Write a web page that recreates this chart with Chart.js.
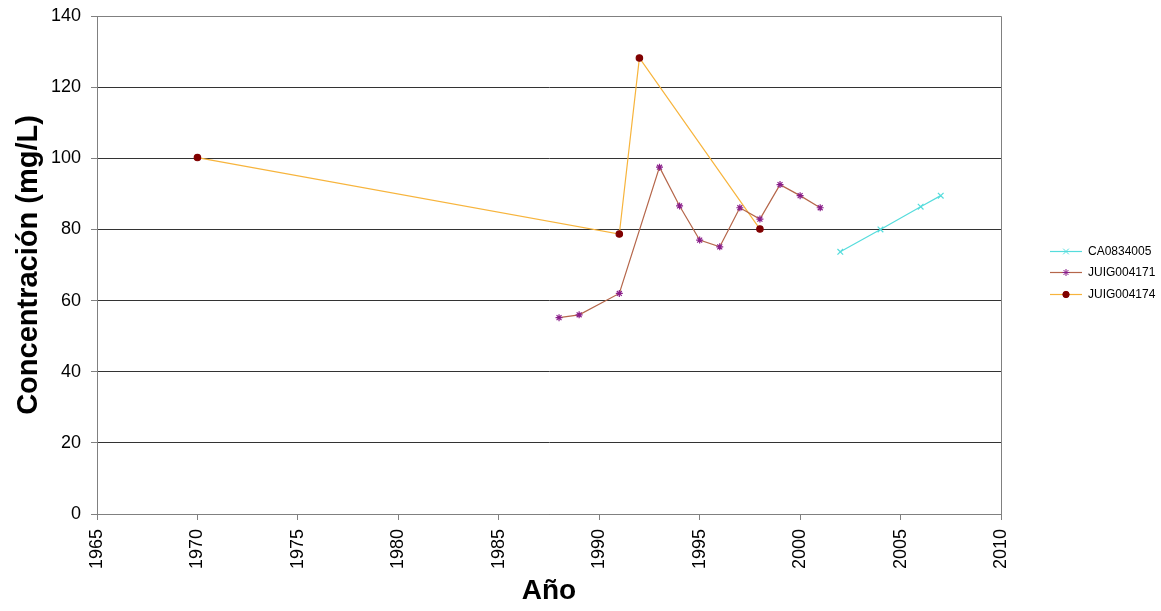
<!DOCTYPE html>
<html>
<head>
<meta charset="utf-8">
<script src="https://cdn.jsdelivr.net/npm/chart.js@4/dist/chart.umd.min.js"></script>
<style>
  html, body { margin: 0; padding: 0; background: #fff; }
  #wrap { width: 1161px; height: 611px; }
</style>
</head>
<body>
<div id="wrap"><canvas id="chart1"></canvas></div>
<script>
// series names
const seriesNames = ['CA0834005', 'JUIG004171', 'JUIG004174'];

// CA0834005
const caYears = [2002, 2004, 2006, 2007];
const caValues = [73.7, 80.0, 86.4, 89.5];

// JUIG004171
const j171Years = [1988, 1989, 1991, 1993, 1994, 1995, 1996, 1997, 1998, 1999, 2000, 2001];
const j171Values = [55.2, 56.0, 62.0, 97.5, 86.6, 77.0, 75.1, 86.1, 82.9, 92.6, 89.5, 86.1];

// JUIG004174
const j174Years = [1970, 1991, 1992, 1998];
const j174Values = [100.2, 78.7, 128.2, 80.1];

function toPoints(xs, ys) {
    return xs.map((x, i) => ({ x: x, y: ys[i] }));
}

const FONT = '"Liberation Sans", Arial, sans-serif';

// draws the box border and the legend (line + marker per series)
const boxAndLegend = {
    id: 'boxAndLegend',
    afterDatasetsDraw(chart) {
        const ctx = chart.ctx;
        const a = chart.chartArea;
        ctx.save();
        ctx.strokeStyle = '#808080';
        ctx.lineWidth = 1;
        ctx.beginPath();
        ctx.moveTo(a.left, a.top + 0.5);
        ctx.lineTo(a.right + 0.5, a.top + 0.5);
        ctx.lineTo(a.right + 0.5, a.bottom);
        ctx.stroke();

        const x0 = 1050, x1 = 1082, ys = [251, 272, 294];
        chart.data.datasets.forEach((ds, i) => {
            const y = ys[i];
            ctx.strokeStyle = ds.borderColor;
            ctx.lineWidth = 1.2;
            ctx.beginPath();
            ctx.moveTo(x0, y + 0.5);
            ctx.lineTo(x1, y + 0.5);
            ctx.stroke();
            ctx.strokeStyle = ds.pointBorderColor;
            ctx.fillStyle = ds.pointBackgroundColor;
            ctx.lineWidth = 1;
            Chart.helpers.drawPoint(ctx, {
                pointStyle: ds.pointStyle,
                radius: ds.pointRadius,
                rotation: 0,
                borderWidth: 1
            }, (x0 + x1) / 2, y + 0.5);
            ctx.fillStyle = '#000';
            ctx.font = '12px ' + FONT;
            ctx.textBaseline = 'middle';
            ctx.textAlign = 'left';
            ctx.fillText(ds.label, x1 + 6, y + 1);
        });
        ctx.restore();
    }
};

const ctx1 = document.getElementById('chart1').getContext('2d');
const chart1 = new Chart(ctx1, {
    type: 'line',
    data: {
        datasets: [{
            label: seriesNames[0],
            data: toPoints(caYears, caValues),
            borderColor: '#55dcdc',
            pointStyle: 'crossRot',
            pointRadius: 4,
            pointBorderColor: '#55dcdc',
            pointBackgroundColor: '#55dcdc',
            borderWidth: 1.2
        }, {
            label: seriesNames[1],
            data: toPoints(j171Years, j171Values),
            borderColor: '#b5664a',
            pointStyle: 'star',
            pointRadius: 3.5,
            pointBorderColor: '#8a1f8a',
            pointBackgroundColor: '#8a1f8a',
            borderWidth: 1.2
        }, {
            label: seriesNames[2],
            data: toPoints(j174Years, j174Values),
            borderColor: '#f7b43c',
            pointStyle: 'circle',
            pointRadius: 3.2,
            pointBorderColor: '#800000',
            pointBackgroundColor: '#800000',
            borderWidth: 1.2
        }]
    },
    options: {
        responsive: true,
        maintainAspectRatio: false,
        animation: { duration: 0 },
        layout: { padding: { left: 0, right: 160, top: 0, bottom: 0 } },
        scales: {
            x: {
                type: 'linear',
                min: 1965,
                max: 2010,
                ticks: {
                    stepSize: 5,
                    minRotation: 90,
                    maxRotation: 90,
                    color: '#000',
                    font: { family: FONT, size: 18 },
                    padding: 9,
                    callback: (v) => String(v)
                },
                grid: {
                    display: true,
                    drawOnChartArea: false,
                    drawTicks: true,
                    tickLength: 6,
                    color: '#808080'
                },
                border: { color: '#808080' },
                title: {
                    display: true,
                    text: 'Año',
                    color: '#000',
                    font: { family: FONT, size: 28, weight: 'bold' },
                    padding: { top: 0, bottom: 3 }
                },
                afterFit(scale) { scale.height = 97; }
            },
            y: {
                min: 0,
                max: 140,
                ticks: {
                    stepSize: 20,
                    color: '#000',
                    font: { family: FONT, size: 18 },
                    padding: 10
                },
                grid: {
                    color: '#333333',
                    tickLength: 6,
                    tickColor: '#808080'
                },
                border: { color: '#808080' },
                title: {
                    display: true,
                    text: 'Concentración (mg/L)',
                    color: '#000',
                    font: { family: FONT, size: 29, weight: 'bold' },
                    padding: { top: 12, bottom: 0 }
                },
                afterFit(scale) {
                    scale.width = 97;
                    scale.paddingTop = 16;
                }
            }
        },
        plugins: {
            legend: { display: false },
            tooltip: { enabled: false }
        }
    },
    plugins: [boxAndLegend]
});
</script>
</body>
</html>
